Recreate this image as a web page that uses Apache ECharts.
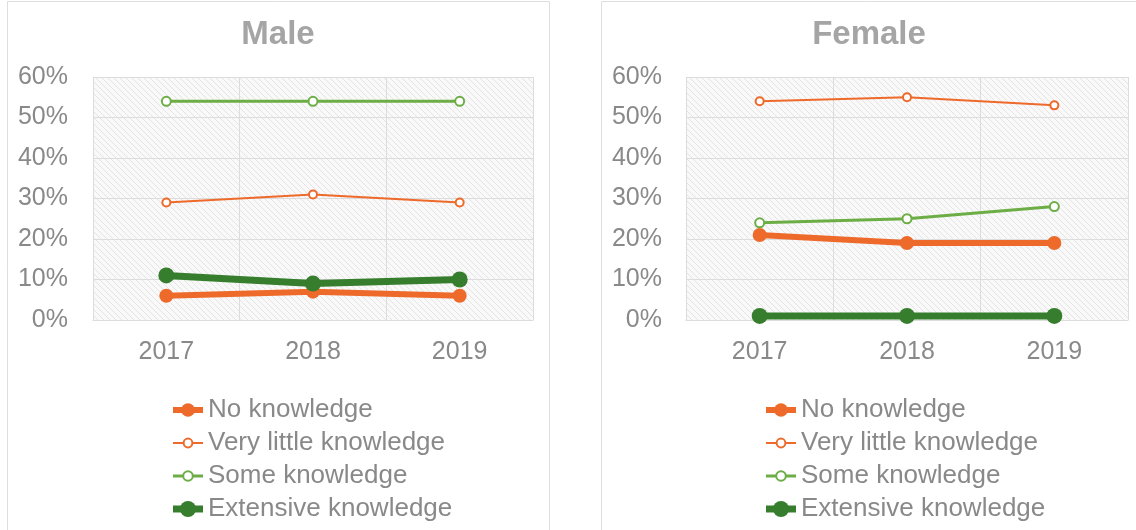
<!DOCTYPE html>
<html>
<head>
<meta charset="utf-8">
<script src="https://cdn.jsdelivr.net/npm/echarts@6/dist/echarts.min.js"></script>
<style>
  html, body { margin: 0; padding: 0; background: #fff; }
  #main { width: 1136px; height: 530px; }
</style>
</head>
<body>
<div id="main"></div>
<script>
// 数据
var years = ['2017', '2018', '2019'];
var seriesNames = ['No knowledge', 'Very little knowledge', 'Some knowledge', 'Extensive knowledge'];
var panelTitles = ['Male', 'Female'];

var maleNone = [6, 7, 6];
var maleLittle = [29, 31, 29];
var maleSome = [54, 54, 54];
var maleExtensive = [11, 9, 10];

var femaleNone = [21, 19, 19];
var femaleLittle = [54, 55, 53];
var femaleSome = [24, 25, 28];
var femaleExtensive = [1, 1, 1];

var ORANGE = '#ee6a2b', LGREEN = '#6cae45', DGREEN = '#367e2d';
var textGray = '#898989';
var fontFam = '"Liberation Sans", Arial, sans-serif';

// 斜纹背景
function hatch() {
    var c = document.createElement('canvas');
    c.width = 6; c.height = 6;
    var ctx = c.getContext('2d');
    ctx.fillStyle = '#f9f9f9';
    ctx.fillRect(0, 0, 6, 6);
    ctx.strokeStyle = '#e4e4e4';
    ctx.lineWidth = 1;
    ctx.beginPath();
    ctx.moveTo(-1, -1); ctx.lineTo(7, 7);
    ctx.moveTo(-1, 5); ctx.lineTo(1, 7);
    ctx.moveTo(5, -1); ctx.lineTo(7, 1);
    ctx.stroke();
    return { image: c, repeat: 'repeat' };
}
var bg = hatch();

// 每个系列的样式 (legendH: 图例里标记大小 = 0.8 * itemHeight)
function styleFor(i) {
    if (i === 0) return { symbol: 'circle', symbolSize: 14, legendH: 17, lineStyle: { width: 6, color: ORANGE }, itemStyle: { color: ORANGE } };
    if (i === 1) return { symbol: 'emptyCircle', symbolSize: 8, legendH: 11, lineStyle: { width: 2, color: ORANGE }, itemStyle: { color: ORANGE, borderWidth: 2 } };
    if (i === 2) return { symbol: 'emptyCircle', symbolSize: 9, legendH: 12, lineStyle: { width: 3, color: LGREEN }, itemStyle: { color: LGREEN, borderWidth: 3 } };
    return { symbol: 'circle', symbolSize: 16, legendH: 20, lineStyle: { width: 7, color: DGREEN }, itemStyle: { color: DGREEN } };
}

var panelData = [
    [maleNone, maleLittle, maleSome, maleExtensive],
    [femaleNone, femaleLittle, femaleSome, femaleExtensive]
];

var grids = [
    { left: 93, right: 1136 - 533, top: 77, height: 243, show: true, backgroundColor: bg, borderWidth: 0 },
    { left: 686, right: 1136 - 1128, top: 77, height: 243, show: true, backgroundColor: bg, borderWidth: 0 }
];
var legendLeft = [172, 765];
var legendRowTop = [397, 430, 463, 496];

var xAxes = [], yAxes = [], series = [], legends = [];
for (var g = 0; g < 2; g++) {
    xAxes.push({
        type: 'category', gridIndex: g, data: years, boundaryGap: true,
        axisLine: { show: true, lineStyle: { color: '#dcdcdc' } },
        axisTick: { show: false },
        axisLabel: { color: textGray, fontSize: 25, fontFamily: fontFam, margin: 20 },
        splitLine: { show: true, lineStyle: { color: '#dcdcdc', width: 1 } }
    });
    yAxes.push({
        type: 'value', gridIndex: g, min: 0, max: 60, interval: 10,
        axisLine: { show: false }, axisTick: { show: false },
        axisLabel: { color: textGray, fontSize: 25, fontFamily: fontFam, margin: g === 0 ? 25 : 24, formatter: '{value}%' },
        splitLine: { show: true, lineStyle: { color: '#dcdcdc', width: 1 } }
    });
    for (var i = 0; i < 4; i++) {
        var st = styleFor(i);
        series.push({
            name: seriesNames[i], type: 'line', xAxisIndex: g, yAxisIndex: g,
            data: panelData[g][i],
            symbol: st.symbol, symbolSize: st.symbolSize, showAllSymbol: true,
            lineStyle: st.lineStyle, itemStyle: st.itemStyle,
            emphasis: { disabled: true }
        });
        // 粗线的线帽会把图例向右推，这里补回去
        legends.push({
            data: [{ name: seriesNames[i], lineStyle: { width: st.lineStyle.width, color: st.lineStyle.color } }],
            orient: 'vertical', left: legendLeft[g] - (st.lineStyle.width - 2) / 2, top: legendRowTop[i],
            itemWidth: 30, itemHeight: st.legendH, padding: 0,
            textStyle: { color: textGray, fontSize: 26, fontFamily: fontFam, lineHeight: 26 },
            selectedMode: false
        });
    }
}

var chart = echarts.init(document.getElementById('main'));
chart.setOption({
    animation: false,
    title: [
        { text: panelTitles[0], left: 278, top: 18, textAlign: 'center', padding: 0,
          textStyle: { color: '#a5a5a5', fontSize: 33, fontWeight: 'bold', fontFamily: fontFam } },
        { text: panelTitles[1], left: 869, top: 18, textAlign: 'center', padding: 0,
          textStyle: { color: '#a5a5a5', fontSize: 33, fontWeight: 'bold', fontFamily: fontFam } }
    ],
    legend: legends,
    grid: grids,
    xAxis: xAxes,
    yAxis: yAxes,
    series: series,
    graphic: [
        { type: 'rect', shape: { x: 7.5, y: 1.5, width: 542, height: 540 }, style: { fill: 'none', stroke: '#dedede', lineWidth: 1 }, z: -1 },
        { type: 'rect', shape: { x: 601.5, y: 1.5, width: 540, height: 540 }, style: { fill: 'none', stroke: '#dedede', lineWidth: 1 }, z: -1 }
    ]
});
</script>
</body>
</html>
